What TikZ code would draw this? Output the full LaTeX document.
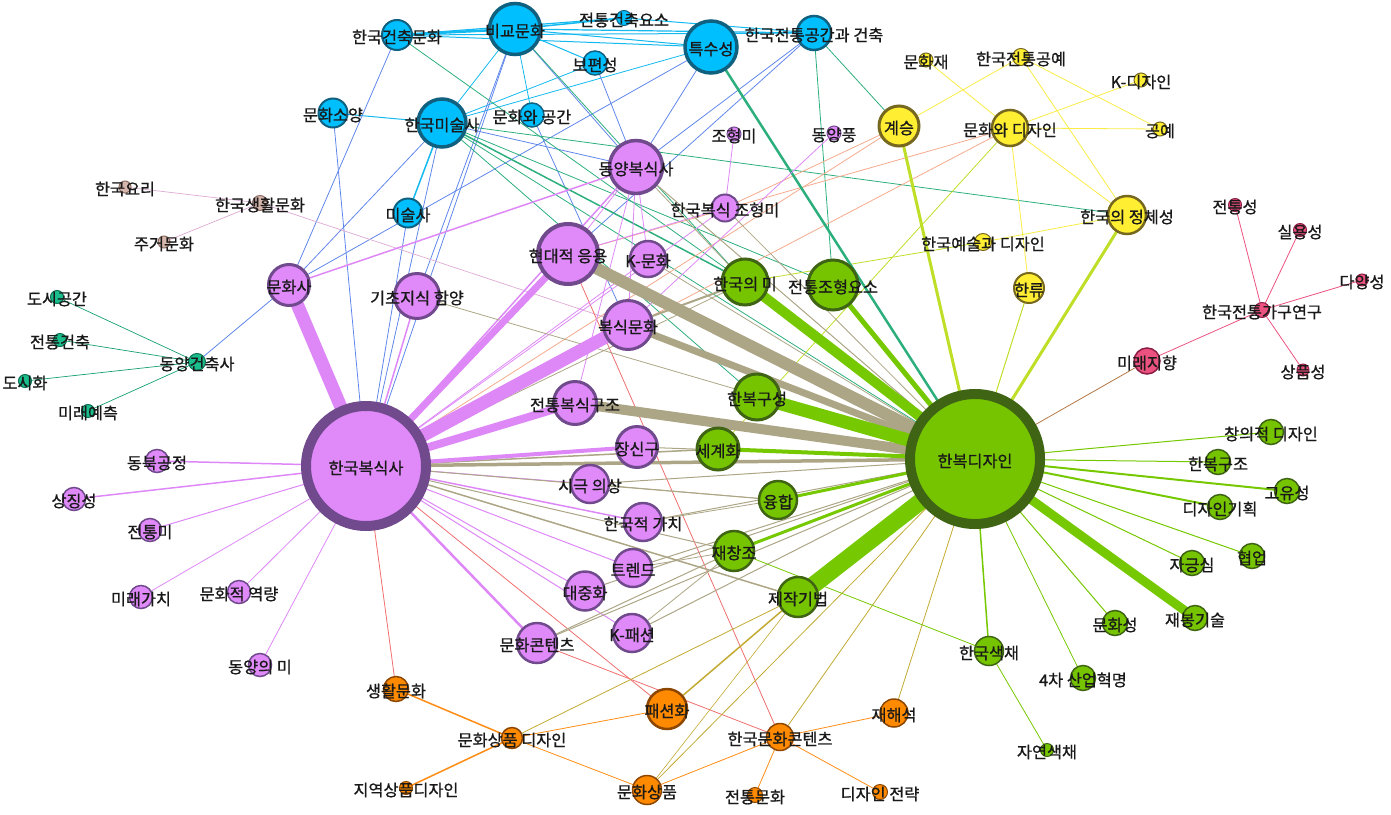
\documentclass[tikz,border=0pt]{standalone}
\usepackage{fontspec}
\setmainfont{Noto Sans CJK KR}
\newfontfamily\kwfont{Noto Sans CJK KR}[FakeBold=0.9]
\usepackage{tikz}
\usepackage{xcolor}
% node colours (fill / rim)
\definecolor{VioF}{RGB}{224,138,250}
\definecolor{VioD}{RGB}{112,74,140}
\definecolor{CyanF}{RGB}{0,191,255}
\definecolor{CyanD}{RGB}{16,96,128}
\definecolor{GrnF}{RGB}{118,196,0}
\definecolor{GrnD}{RGB}{62,100,20}
\definecolor{YelF}{RGB}{255,238,50}
\definecolor{YelD}{RGB}{118,104,30}
\definecolor{OrgF}{RGB}{255,138,0}
\definecolor{OrgD}{RGB}{140,70,0}
\definecolor{TealF}{RGB}{26,190,140}
\definecolor{TealD}{RGB}{14,110,80}
\definecolor{PnkF}{RGB}{236,82,128}
\definecolor{PnkD}{RGB}{140,30,70}
\definecolor{BrnF}{RGB}{214,182,172}
\definecolor{BrnD}{RGB}{140,110,100}
% edge colours (mixed from both ends)
\definecolor{EdgeVV}{RGB}{222,136,248}
\definecolor{EdgeCC}{RGB}{20,185,240}
\definecolor{EdgeCV}{RGB}{95,135,235}
\definecolor{EdgeCG}{RGB}{45,175,125}
\definecolor{EdgeVG}{RGB}{172,166,134}
\definecolor{EdgeGG}{RGB}{118,200,0}
\definecolor{EdgeYG}{RGB}{190,222,40}
\definecolor{EdgeYY}{RGB}{250,236,70}
\definecolor{EdgeVY}{RGB}{244,170,140}
\definecolor{EdgeVO}{RGB}{240,110,110}
\definecolor{EdgeOO}{RGB}{255,140,20}
\definecolor{EdgeGO}{RGB}{195,170,50}
\definecolor{EdgePP}{RGB}{236,82,128}
\definecolor{EdgePG}{RGB}{180,120,70}
\definecolor{EdgeTT}{RGB}{20,160,110}
\definecolor{EdgeBB}{RGB}{220,170,210}
\tikzset{
	kw/.style={circle, draw, inner sep=0pt, outer sep=0pt},
	vnode/.style={kw, fill=VioF, draw=VioD},
	cnode/.style={kw, fill=CyanF, draw=CyanD},
	gnode/.style={kw, fill=GrnF, draw=GrnD},
	ynode/.style={kw, fill=YelF, draw=YelD},
	onode/.style={kw, fill=OrgF, draw=OrgD},
	tnode/.style={kw, fill=TealF, draw=TealD},
	pnode/.style={kw, fill=PnkF, draw=PnkD},
	bnode/.style={kw, fill=BrnF, draw=BrnD},
	lbl/.style={font=\kwfont\fontsize{16.3}{18}\selectfont, text=black!90, inner sep=0pt, yshift=-2pt},
}
\pgfdeclarelayer{bg}
\pgfdeclarelayer{fg}
\pgfsetlayers{bg,main,fg}

\begin{document}
\begin{tikzpicture}[x=1pt, y=-1pt]
	\useasboundingbox (0,0) rectangle (1391,814);

	% violet cluster: Korean costume history
	\foreach \nm/\x/\y/\dm/\bw/\txt in {
		hbs/366/466/120/10/한국복식사, dybs/636/167/53/3.5/동양복식사,
		hdey/568/254/60/4/현대적 응용, kmh/648/259/36/2.5/K-문화,
		hbjh/725/208/27/2/한국복식 조형미, jhm/734/134/14/1/조형미,
		dyp/834/133/14/1/동양풍, mhs/289/285/41/3/문화사,
		gcjs/417/296/45/3/기초지식 함양, bsmh/628/325/49/3/복식문화,
		jtbs/575/403/43/3/전통복식구조, jsg/637/447/41/3/장신구,
		sgus/590/484/38/2.5/시극 의상, hgjg/643/522/38/2.5/한국적 가치,
		trd/633/568/38/2.5/트렌드, djh/585/591/39/2.5/대중화,
		kps/632/633/38/2.5/K-패션, mhct/537/643/40/2.5/문화콘텐츠,
		dbgj/157/461/23/1.5/동북공정, sjs/74/499/23/1.5/상징성,
		jtm/150/530/23/1.5/전통미, mrgc/141/597/23/1.5/미래가치,
		mhjy/239/592/23/1.5/문화적 역량, dym/260/665/23/1.5/동양의 미}{
		\node[vnode, minimum size=\dm pt, line width=\bw pt] (\nm) at (\x,\y) {};
		\begin{pgfonlayer}{fg}\node[lbl] (\nm-t) at (\nm.center) {\txt};\end{pgfonlayer}
	}

	% cyan cluster: art and architecture
	\foreach \nm/\x/\y/\dm/\bw/\txt in {
		bgmh/515/29/51/3.5/비교문화, hgcm/397/35/30/2/한국건축문화,
		jtcy/624/18/15/1/전통건축요소, tss/711/47/52/3.5/특수성,
		bps/595/63/24/1.5/보편성, mhsy/333/113/29/2/문화소양,
		hgms/442/123/48/3.5/한국미술사, mhgg/532/115/24/1.5/문화와 공간,
		mss/408/213/29/2/미술사, hjgg/814/33/34/2.5/한국전통공간과 건축}{
		\node[cnode, minimum size=\dm pt, line width=\bw pt] (\nm) at (\x,\y) {};
		\begin{pgfonlayer}{fg}\node[lbl] (\nm-t) at (\nm.center) {\txt};\end{pgfonlayer}
	}

	% green cluster: hanbok design
	\foreach \nm/\x/\y/\dm/\bw/\txt in {
		hbd/975/459/130/10/한복디자인, hgm/745/282/46/3/한국의 미,
		jtjh/833/285/50/3/전통조형요소, hbgs/757/397/46/3/한복구성,
		sgh/718/449/42/3/세계화, yh/778/500/38/2.5/융합,
		jcj/734/551/40/2.5/재창조, jjgb/798/597/40/2.5/제작기법,
		cujd/1271/432/25/1.5/창의적 디자인, hbgj/1218/462/25/1.5/한복구조,
		gys/1287/491/25/1.5/고유성, djgh/1220/507/25/1.5/디자인기획,
		jgs/1192/563/25/1.5/자긍심, hy/1252/556/25/1.5/협업,
		jbgs/1195/618/25/1.5/재봉기술, mhsg/1115/623/25/1.5/문화성,
		hgsc/989/651/29/1.5/한국색채, sahm/1083/678/25/1.5/4차 산업혁명,
		jysc/1047/750/13/1/자연색채}{
		\node[gnode, minimum size=\dm pt, line width=\bw pt] (\nm) at (\x,\y) {};
		\begin{pgfonlayer}{fg}\node[lbl] (\nm-t) at (\nm.center) {\txt};\end{pgfonlayer}
	}

	% yellow cluster
	\foreach \nm/\x/\y/\dm/\bw/\txt in {
		gs/899/126/40/3/계승, mhj/926/60/14/1/문화재,
		hjgy/1021/57/17/1/한국전통공예, kd/1141/80/14/1/K-디자인,
		gy/1160/129/14/1/공예, mhd/1010/128/36/2.5/문화와 디자인,
		hjcs/1127/215/38/2.5/한국의 정체성, hyd/983/242/17/1/한국예술과 디자인,
		hr/1029/288/30/2/한류}{
		\node[ynode, minimum size=\dm pt, line width=\bw pt] (\nm) at (\x,\y) {};
		\begin{pgfonlayer}{fg}\node[lbl] (\nm-t) at (\nm.center) {\txt};\end{pgfonlayer}
	}

	% pink cluster
	\foreach \nm/\x/\y/\dm/\bw/\txt in {
		mrjh/1147/361/26/1.5/미래지향, hjgr/1262/310/15/1/한국전통가구연구,
		jts/1235/205/13/1/전통성, sys/1300/230/13/1/실용성,
		dys/1362/280/12/1/다양성, sps/1303/370/12/1/상품성}{
		\node[pnode, minimum size=\dm pt, line width=\bw pt] (\nm) at (\x,\y) {};
		\begin{pgfonlayer}{fg}\node[lbl] (\nm-t) at (\nm.center) {\txt};\end{pgfonlayer}
	}

	% teal and brown clusters
	\foreach \nm/\x/\y/\dm/\bw/\txt in {
		dygc/197/362/17/1/동양건축사, dsgg/57/297/13/1/도시공간,
		jtgc/60/340/13/1/전통건축, dsh/25/381/13/1/도시화,
		mryc/88/411/13/1/미래예측}{
		\node[tnode, minimum size=\dm pt, line width=\bw pt] (\nm) at (\x,\y) {};
		\begin{pgfonlayer}{fg}\node[lbl] (\nm-t) at (\nm.center) {\txt};\end{pgfonlayer}
	}
	\foreach \nm/\x/\y/\dm/\bw/\txt in {
		hgsh/260/203/15/1/한국생활문화, hgyr/125/187/12/1/한국요리,
		jgmh/164/242/12/1/주거문화}{
		\node[bnode, minimum size=\dm pt, line width=\bw pt] (\nm) at (\x,\y) {};
		\begin{pgfonlayer}{fg}\node[lbl] (\nm-t) at (\nm.center) {\txt};\end{pgfonlayer}
	}

	% orange cluster
	\foreach \nm/\x/\y/\dm/\bw/\txt in {
		shmh/396/689/25/1.5/생활문화, jysp/406/788/13/1/지역상품디자인,
		mhspd/512/738/21/1.5/문화상품 디자인, psh/667/709/40/2.5/패션화,
		hgmc/780/737/27/1.5/한국문화콘텐츠, mhsp/647/790/29/1.5/문화상품,
		jtmh/755/795/15/1/전통문화, jhs/894/713/28/1.5/재해석,
		djjr/880/792/15/1/디자인 전략}{
		\node[onode, minimum size=\dm pt, line width=\bw pt] (\nm) at (\x,\y) {};
		\begin{pgfonlayer}{fg}\node[lbl] (\nm-t) at (\nm.center) {\txt};\end{pgfonlayer}
	}

	% links, drawn under the nodes
	\begin{pgfonlayer}{bg}
		% thin links first
		\foreach \a/\b/\w in {hgcm/jtcy/1.2, hgcm/tss/1, hgcm/hjgg/1, bgmh/jtcy/1.5,
			bgmh/hjgg/1.2, jtcy/hjgg/1, bgmh/bps/1, bgmh/hgms/0.8, bgmh/mhgg/0.8,
			bps/hgms/0.8, tss/hgms/0.8, hgms/mhsy/1, hgms/mss/1.5, bgmh/tss/1, hgcm/bgmh/2.5}
			\draw[EdgeCC, line width=\w pt] (\a.center) -- (\b.center);
		\foreach \a/\b in {bgmh/dybs, bgmh/hbs, bgmh/gcjs, bps/dybs, tss/dybs, tss/mhs,
			hgcm/mhs, hgms/mhs, hgms/hbs, mhsy/hbs, mss/hbs, mhgg/bsmh, hjgg/dybs,
			hjgg/hdey, hgms/dybs, dygc/mhs}
			\draw[EdgeCV, line width=0.8pt] (\a.center) -- (\b.center);
		\foreach \a/\b/\w in {hjgg/jtjh/0.8, hjgg/gs/0.8, hgms/hgm/1.5, hgms/jtjh/0.8,
			hgms/hjcs/0.8, hgms/hbgs/0.8, bgmh/hgm/0.8, hgcm/hgm/0.8, hgms/hbd/0.8}
			\draw[EdgeCG, line width=\w pt] (\a.center) -- (\b.center);
		\foreach \a/\b in {dygc/dsgg, dygc/jtgc, dygc/dsh, dygc/mryc}
			\draw[EdgeTT, line width=0.7pt] (\a.center) -- (\b.center);
		\foreach \a/\b in {hgsh/hgyr, hgsh/jgmh, hgsh/bsmh}
			\draw[EdgeBB, line width=0.7pt] (\a.center) -- (\b.center);
		\foreach \a/\b in {hjgr/jts, hjgr/sys, hjgr/dys, hjgr/sps, mrjh/hjgr}
			\draw[EdgePP, line width=0.8pt] (\a.center) -- (\b.center);
		\draw[EdgePG, line width=0.8pt] (mrjh.center) -- (hbd.center);
		\foreach \a/\b in {gs/hjgy, mhj/mhd, hjgy/hjcs, hjgy/gy, kd/mhd, mhd/gy,
			mhd/hjcs, mhd/hr, hyd/hjcs}
			\draw[EdgeYY, line width=0.8pt] (\a.center) -- (\b.center);
		\foreach \a/\b in {hbs/gs, hbs/mhd, hdey/mhd, hbjh/gs}
			\draw[EdgeVY, line width=0.8pt] (\a.center) -- (\b.center);
		\foreach \a/\b in {hbs/shmh, hbs/psh, mhct/hgmc, hdey/hgmc}
			\draw[EdgeVO, line width=0.8pt] (\a.center) -- (\b.center);
		\foreach \a/\b/\w in {shmh/mhspd/1.5, jysp/mhspd/1.5, mhspd/psh/0.8,
			mhspd/mhsp/0.8, hgmc/mhsp/0.8, hgmc/jtmh/0.8, hgmc/djjr/0.8, hgmc/jhs/0.8}
			\draw[EdgeOO, line width=\w pt] (\a.center) -- (\b.center);
		\foreach \a/\b/\w in {psh/jjgb/1.5, mhspd/jjgb/0.8, mhsp/hbd/0.8,
			hgmc/hbd/0.8, jhs/hbd/0.8, mhsp/jjgb/0.6}
			\draw[EdgeGO, line width=\w pt] (\a.center) -- (\b.center);
		\foreach \a/\b/\w in {mhd/sgh/0.8, hyd/hgm/0.8, hbd/hr/1, hbd/gs/3, hbd/hjcs/3}
			\draw[EdgeYG, line width=\w pt] (\a.center) -- (\b.center);
		\draw[EdgeCG, line width=2.5pt] (tss.center) -- (hbd.center);
		\foreach \a/\b/\w in {hbs/kmh/0.8, hbs/hbjh/0.8, dybs/hdey/0.8, dybs/kmh/0.8,
			dybs/bsmh/0.8, dybs/jtbs/0.8, hbjh/jhm/0.8, hbjh/hdey/0.8, dyp/bsmh/0.8,
			hbs/kps/1, hbs/djh/1, hbs/trd/1, hbs/sgus/1, hbs/mrgc/0.8, hbs/mhjy/0.8,
			hbs/dym/0.8, hbs/jtm/1, hbs/dbgj/1.5, hbs/sjs/1.5, hbs/hgjg/1.5,
			hbs/dybs/1.5, hbs/gcjs/1.5, dybs/mhs/1.5, hbs/mhct/2.5}
			\draw[EdgeVV, line width=\w pt] (\a.center) -- (\b.center);
		\foreach \a/\b/\w in {hbd/jsg/1, hbd/sgus/1, hbd/hgjg/1, hbd/trd/1, hbd/djh/1,
			hbd/kps/1, hbd/mhct/1, hbd/dybs/1, hbd/gcjs/0.8, hbd/kmh/0.8, hbd/hbjh/0.8,
			hbs/hgm/0.8, dybs/hgm/0.8, mhct/jcj/1, kps/jcj/0.8, trd/jcj/0.8,
			sgus/yh/0.8, hgjg/yh/0.8, hbs/yh/1, hbs/jcj/1, hbs/jjgb/1.5, hbs/sgh/1.5,
			bsmh/hgm/2}
			\draw[EdgeVG, line width=\w pt] (\a.center) -- (\b.center);
		\foreach \a/\b/\w in {hgsc/jysc/0.8, jcj/hgsc/0.8, hbd/sahm/0.8, hbd/cujd/1,
			hbd/hbgj/1, hbd/jgs/1, hbd/hy/1, hbd/mhsg/1, hbd/hgsc/1.5, hbd/gys/2,
			hbd/djgh/2}
			\draw[EdgeGG, line width=\w pt] (\a.center) -- (\b.center);
		% heavy links last
		\foreach \a/\b/\w in {hbs/jsg/4, hbs/hdey/7, hbs/jtbs/8, hbs/mhs/13, hbs/bsmh/13}
			\draw[EdgeVV, line width=\w pt] (\a.center) -- (\b.center);
		\foreach \a/\b/\w in {hbd/hbs/3.5, hbd/bsmh/7, hbd/jtbs/10, hbd/hdey/12}
			\draw[EdgeVG, line width=\w pt] (\a.center) -- (\b.center);
		\foreach \a/\b/\w in {hbd/yh/3, hbd/jcj/3, hbd/sgh/4, hbd/jtjh/5, hbd/jbgs/9,
			hbd/hgm/10, hbd/hbgs/13, hbd/jjgb/17}
			\draw[EdgeGG, line width=\w pt] (\a.center) -- (\b.center);
	\end{pgfonlayer}
\end{tikzpicture}
\end{document}
